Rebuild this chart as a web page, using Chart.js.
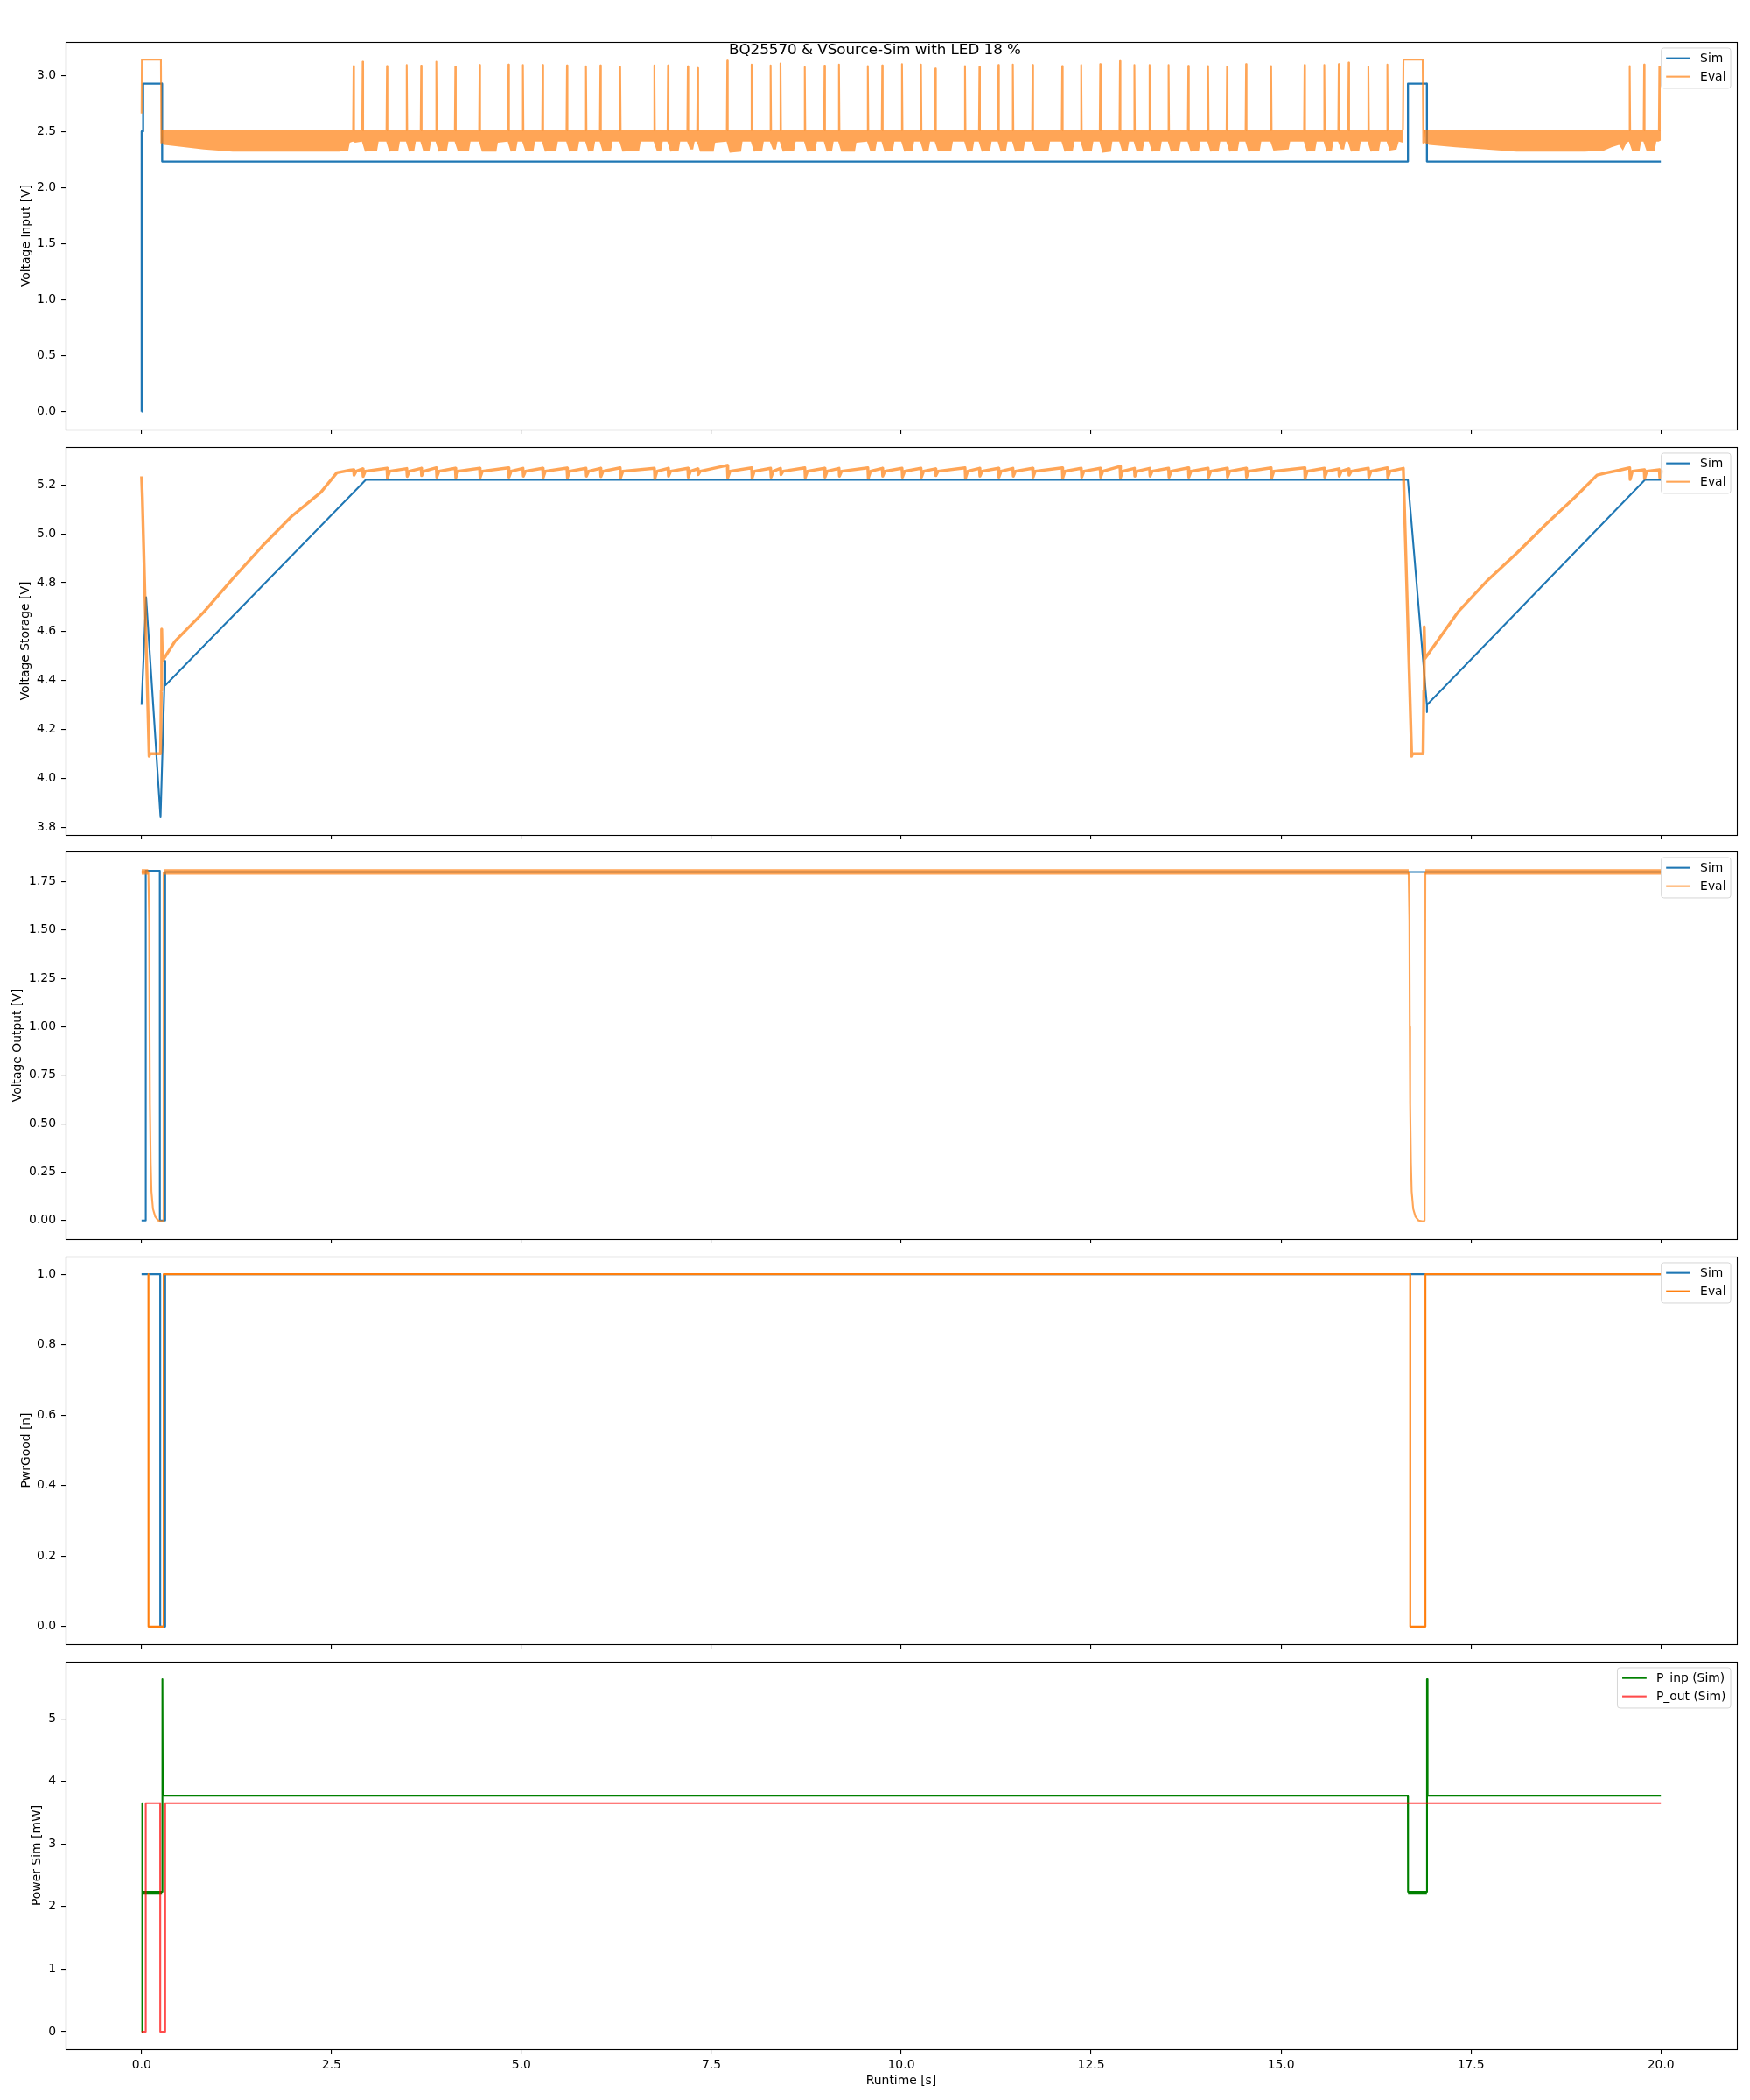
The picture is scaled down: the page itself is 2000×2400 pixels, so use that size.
<!DOCTYPE html>
<html>
<head>
<meta charset="utf-8">
<title>BQ25570 &amp; VSource-Sim with LED 18 %</title>
<script src="https://cdn.jsdelivr.net/npm/chart.js@4.4.1/dist/chart.umd.min.js"></script>
<style>
  html, body { margin:0; padding:0; background:#ffffff; }
  body { position:relative; width:2000px; height:2400px; overflow:hidden; }
  canvas.panel { position:absolute; left:0; }
  #suptitle { position:absolute; left:0; top:46px; width:2000px; text-align:center;
    font-family:"DejaVu Sans", sans-serif; font-size:16.7px; line-height:20px; color:#000; z-index:10; }
</style>
</head>
<body>
<canvas id="p0" class="panel"></canvas>
<canvas id="p1" class="panel"></canvas>
<canvas id="p2" class="panel"></canvas>
<canvas id="p3" class="panel"></canvas>
<canvas id="p4" class="panel"></canvas>
<div id="suptitle">BQ25570 &amp; VSource-Sim with LED 18 %</div>
<script>
// ======================= DATA =======================
const xTicks = [0, 2.5, 5, 7.5, 10, 12.5, 15, 17.5, 20];
const xRange = [-1, 21];
const xLabel = 'Runtime [s]';

// ---- Panel 1: Voltage Input ----
const yLabelVin = 'Voltage Input [V]';
const yTicksVin = [0, 0.5, 1.0, 1.5, 2.0, 2.5, 3.0];
const yRangeVin = [-0.157, 3.297];
const simVin = [[0,0],[0.001,2.50],[0.02,2.50],[0.021,2.925],[0.27,2.925],[0.271,2.232],
  [16.67,2.232],[16.671,2.925],[16.92,2.925],[16.921,2.232],[20,2.232]];
const evalVinStepA = [[0,2.66],[0.004,3.14],[0.255,3.14],[0.26,2.40],[0.268,2.51]];
const evalVinStepB = [[16.605,2.51],[16.612,3.14],[16.865,3.14],[16.872,2.40],[16.885,2.51]];
const evalVinBandTop = 2.513;
const evalVinBandALow = [
  [0.268,2.40],[0.30,2.38],[0.45,2.37],[0.82,2.34],[1.2,2.32],[2.0,2.32],[2.6,2.32],[2.72,2.33],[2.74,2.40],[2.78,2.41],
  [2.81,2.40],[2.90,2.41],
  [2.94,2.32],[3.10,2.33],[3.12,2.41],[3.22,2.41],
  [3.26,2.32],[3.38,2.33],[3.40,2.41],[3.48,2.41],
  [3.52,2.32],[3.59,2.33],[3.61,2.41],[3.67,2.41],
  [3.71,2.32],[3.79,2.33],[3.81,2.41],[3.87,2.41],
  [3.91,2.32],[4.02,2.33],[4.04,2.41],[4.12,2.41],
  [4.16,2.33],[4.31,2.33],[4.33,2.41],[4.44,2.41],
  [4.48,2.32],[4.67,2.32],[4.69,2.40],[4.82,2.41],
  [4.86,2.32],[4.93,2.33],[4.95,2.41],[5.01,2.41],
  [5.05,2.33],[5.16,2.33],[5.18,2.41],[5.27,2.41],
  [5.31,2.32],[5.46,2.33],[5.48,2.41],[5.59,2.41],
  [5.63,2.32],[5.74,2.33],[5.76,2.41],[5.84,2.41],
  [5.88,2.32],[5.95,2.33],[5.97,2.41],[6.03,2.41],
  [6.07,2.32],[6.18,2.33],[6.20,2.41],[6.29,2.41],
  [6.33,2.32],[6.55,2.33],[6.57,2.41],[6.74,2.41],
  [6.78,2.33],[6.84,2.33],[6.86,2.41],[6.92,2.41],
  [6.96,2.32],[7.07,2.33],[7.09,2.41],[7.18,2.41],
  [7.22,2.34],[7.26,2.34],[7.28,2.41],[7.31,2.41],
  [7.35,2.32],[7.53,2.32],[7.55,2.40],[7.70,2.41],
  [7.74,2.31],[7.89,2.32],[7.91,2.41],[8.02,2.41],
  [8.06,2.32],[8.17,2.33],[8.19,2.41],[8.27,2.41],
  [8.31,2.34],[8.35,2.34],[8.37,2.41],[8.40,2.41],
  [8.44,2.32],[8.59,2.33],[8.61,2.41],[8.72,2.41],
  [8.76,2.32],[8.87,2.33],[8.89,2.41],[8.98,2.41],
  [9.02,2.32],[9.09,2.33],[9.11,2.41],[9.17,2.41],
  [9.21,2.32],[9.39,2.32],[9.41,2.40],[9.55,2.41],
  [9.59,2.33],[9.66,2.33],[9.68,2.41],[9.74,2.41],
  [9.78,2.32],[9.89,2.33],[9.91,2.41],[10.00,2.41],
  [10.04,2.32],[10.15,2.33],[10.17,2.41],[10.25,2.41],
  [10.29,2.32],[10.36,2.33],[10.38,2.41],[10.44,2.41],
  [10.48,2.33],[10.66,2.33],[10.68,2.41],[10.83,2.41],
  [10.87,2.32],[10.94,2.33],[10.96,2.41],[11.02,2.41],
  [11.06,2.32],[11.17,2.33],[11.19,2.41],[11.27,2.41],
  [11.31,2.32],[11.38,2.33],[11.40,2.41],[11.46,2.41],
  [11.50,2.32],[11.61,2.33],[11.63,2.41],[11.72,2.41],
  [11.76,2.33],[11.94,2.33],[11.96,2.41],[12.11,2.41],
  [12.15,2.32],[12.26,2.33],[12.28,2.41],[12.36,2.41],
  [12.40,2.32],[12.51,2.33],[12.53,2.41],[12.61,2.41],
  [12.65,2.31],[12.76,2.32],[12.78,2.41],[12.87,2.41],
  [12.91,2.32],[12.98,2.33],[13.00,2.41],[13.06,2.41],
  [13.10,2.32],[13.18,2.33],[13.20,2.41],[13.26,2.41],
  [13.30,2.32],[13.41,2.33],[13.43,2.41],[13.51,2.41],
  [13.55,2.32],[13.66,2.33],[13.68,2.41],[13.77,2.41],
  [13.81,2.32],[13.92,2.33],[13.94,2.41],[14.03,2.41],
  [14.07,2.32],[14.18,2.33],[14.20,2.41],[14.28,2.41],
  [14.32,2.32],[14.43,2.33],[14.45,2.41],[14.53,2.41],
  [14.57,2.32],[14.72,2.33],[14.74,2.41],[14.86,2.41],
  [14.90,2.33],[15.10,2.34],[15.12,2.41],[15.30,2.41],
  [15.34,2.32],[15.45,2.33],[15.47,2.41],[15.56,2.41],
  [15.60,2.32],[15.67,2.33],[15.69,2.41],[15.75,2.41],
  [15.79,2.34],[15.83,2.34],[15.85,2.41],[15.88,2.41],
  [15.92,2.32],[16.03,2.33],[16.05,2.41],[16.14,2.41],
  [16.18,2.32],[16.29,2.33],[16.31,2.41],[16.39,2.41],
  [16.43,2.33],[16.52,2.34],[16.55,2.41],[16.605,2.40]
];
const evalVinBandBLow = [
  [16.885,2.40],[16.95,2.38],[17.3,2.36],[17.7,2.34],[18.1,2.32],[18.6,2.32],[19.0,2.32],[19.25,2.33],
  [19.35,2.36],[19.45,2.38],[19.50,2.33],[19.55,2.40],[19.58,2.41],[19.62,2.33],[19.72,2.33],[19.74,2.41],
  [19.77,2.41],[19.81,2.33],[19.92,2.33],[19.94,2.41],[19.97,2.41],[20.0,2.42]
];
const spikeT = [2.79, 2.91, 3.23, 3.49, 3.68, 3.88, 4.13, 4.45, 4.83, 5.02, 5.28, 5.60, 5.85, 6.04,
  6.30, 6.75, 6.93, 7.19, 7.32, 7.71, 8.03, 8.28, 8.41, 8.73, 8.99, 9.18, 9.56, 9.75, 10.01, 10.26,
  10.45, 10.84, 11.03, 11.28, 11.47, 11.73, 12.12, 12.37, 12.62, 12.88, 13.07, 13.27, 13.52, 13.78,
  14.04, 14.29, 14.54, 14.87, 15.31, 15.57, 15.76, 15.89, 16.15, 16.40, 19.59, 19.78, 19.98];
const spikeV = [3.083, 3.122, 3.083, 3.091, 3.086, 3.122, 3.078, 3.091, 3.096, 3.091, 3.091, 3.088,
  3.081, 3.088, 3.075, 3.088, 3.088, 3.081, 3.065, 3.130, 3.096, 3.088, 3.106, 3.073, 3.086, 3.096,
  3.083, 3.089, 3.100, 3.096, 3.060, 3.083, 3.075, 3.091, 3.096, 3.091, 3.083, 3.091, 3.100, 3.128,
  3.091, 3.091, 3.091, 3.085, 3.083, 3.078, 3.100, 3.083, 3.091, 3.091, 3.100, 3.114, 3.078, 3.096,
  3.083, 3.096, 3.078];

// ---- Panel 2: Voltage Storage ----
const yLabelSto = 'Voltage Storage [V]';
const yTicksSto = [3.8, 4.0, 4.2, 4.4, 4.6, 4.8, 5.0, 5.2];
const yRangeSto = [3.768, 5.355];
const simSto = [[0,4.30],[0.06,4.74],[0.25,3.84],[0.31,4.48],[0.312,4.38],[2.95,5.221],[16.67,5.221],
  [16.92,4.30],[16.921,4.27],[16.922,4.30],[19.79,5.221],[20,5.221]];
const evalStoRiseA = [[0,5.235],[0.01,5.15],[0.10,4.09],[0.11,4.10],[0.25,4.10],[0.26,4.36],[0.265,4.61],
  [0.275,4.48],[0.44,4.56],[0.82,4.68],[1.21,4.82],[1.59,4.95],[1.97,5.07],[2.36,5.17],[2.57,5.25],[2.74,5.26]];
const evalStoRiseB = [[16.61,5.268],[16.72,4.09],[16.73,4.10],[16.87,4.10],[16.88,4.36],[16.885,4.62],
  [16.895,4.49],[17.33,4.68],[17.72,4.81],[18.10,4.92],[18.49,5.04],[18.87,5.15],[19.16,5.24],[19.29,5.25],[19.45,5.26]];
const evalStoEnd = [[20.0,5.255]];
const evalStoHi = [5.262, 5.266, 5.268, 5.267, 5.268, 5.270, 5.268, 5.268, 5.270, 5.268, 5.268, 5.269,
  5.268, 5.268, 5.270, 5.268, 5.268, 5.268, 5.266, 5.280, 5.270, 5.268, 5.268, 5.270, 5.268, 5.268,
  5.270, 5.268, 5.268, 5.268, 5.266, 5.270, 5.268, 5.268, 5.268, 5.268, 5.270, 5.268, 5.268, 5.276,
  5.268, 5.268, 5.268, 5.270, 5.268, 5.268, 5.268, 5.270, 5.270, 5.268, 5.266, 5.266, 5.268, 5.270,
  5.270, 5.262, 5.262];
const evalStoLo = [5.240, 5.235, 5.228, 5.235, 5.238, 5.232, 5.230, 5.230, 5.232, 5.236, 5.230, 5.230,
  5.236, 5.234, 5.230, 5.226, 5.236, 5.232, 5.242, 5.230, 5.228, 5.232, 5.242, 5.230, 5.232, 5.236,
  5.228, 5.236, 5.232, 5.232, 5.238, 5.228, 5.236, 5.232, 5.236, 5.232, 5.228, 5.232, 5.232, 5.230,
  5.236, 5.236, 5.232, 5.232, 5.232, 5.232, 5.232, 5.228, 5.226, 5.232, 5.236, 5.240, 5.232, 5.230,
  5.222, 5.226, 5.230];
const evalStoRecover = 5.256;   // level reached shortly after each notch

// ---- Panel 3: Voltage Output ----
const yLabelVout = 'Voltage Output [V]';
const yTicksVout = [0, 0.25, 0.5, 0.75, 1.0, 1.25, 1.5, 1.75];
const yRangeVout = [-0.096, 1.906];
const simVout = [[0,0],[0.054,0],[0.055,1.806],[0.24,1.806],[0.241,0],[0.31,0],[0.311,1.80],[20,1.80]];
const evalVoutDipA = [[0,1.80],[0.09,1.80],[0.10,1.55],[0.105,1.0],[0.11,0.6],[0.12,0.3],[0.13,0.15],
  [0.15,0.06],[0.18,0.02],[0.22,0.0],[0.27,-0.005],[0.285,0.0],[0.29,1.80]];
const evalVoutDipB = [[16.68,1.80],[16.69,1.55],[16.695,1.0],[16.70,0.6],[16.71,0.3],[16.72,0.15],
  [16.74,0.06],[16.77,0.02],[16.81,0.0],[16.87,-0.005],[16.89,0.0],[16.90,1.80]];
const evalVoutBandSpans = [[0, 0.09], [0.29, 16.68], [16.90, 20]];
const evalVoutBandTop = 1.815;
const evalVoutBandLow = 1.786;

// ---- Panel 4: PwrGood ----
const yLabelPG = 'PwrGood [n]';
const yTicksPG = [0, 0.2, 0.4, 0.6, 0.8, 1.0];
const yRangePG = [-0.05, 1.05];
const simPG = [[0,1],[0.245,1],[0.246,0],[0.31,0],[0.311,1],[20,1]];
const evalPG = [[0.09,1],[0.091,0],[0.29,0],[0.291,1],[16.70,1],[16.701,0],[16.90,0],[16.901,1],[20,1]];

// ---- Panel 5: Power Sim ----
const yLabelPow = 'Power Sim [mW]';
const yTicksPow = [0, 1, 2, 3, 4, 5];
const yRangePow = [-0.28, 5.91];
const pInp = [[0,0],[0.003,0],[0.004,3.65],[0.012,3.65],[0.013,2.235],[0.27,2.235],[0.272,5.63],[0.277,5.63],
  [0.279,3.77],[16.67,3.77],[16.672,2.235],[16.92,2.235],[16.922,5.63],[16.927,5.63],[16.929,3.77],[20,3.77]];
const pInpLowEdge = [[0.013,2.205],[0.27,2.205],[0.27,null],[16.672,2.205],[16.92,2.205]];
const pOut = [[0,0],[0.054,0],[0.055,3.65],[0.245,3.65],[0.246,0],[0.31,0],[0.311,3.65],[20,3.65]];

// ======================= STYLE / LAYOUT =======================
const FONT = '"DejaVu Sans", sans-serif';
const FS = 13.9;
const C_SIM = '#1f77b4';
const C_EVAL = 'rgba(255,127,14,0.7)';
const C_EVAL_SOLID = '#ff7f0e';
const C_PINP = '#008000';
const C_POUT = 'rgba(255,0,0,0.7)';
const PANEL_TOP = [48, 511, 973, 1436, 1899];
const PANEL_H = 443;
const PAD_TOP = 20, PAD_BOTTOM = 10;
const SPIKE_HALF = 0.006, STO_DROP_DT = 0.006, STO_RECOVER_DT = 0.035;

Chart.defaults.font.family = FONT;
Chart.defaults.color = '#000';

function toXY(pts) { return pts.map(p => ({x: p[0], y: p[1]})); }
function lineDS(label, pts, color, width, order) {
  return {label, data: toXY(pts), borderColor: color, backgroundColor: color, borderWidth: width,
    pointRadius: 0, pointHoverRadius: 0, fill: false, order, tension: 0, spanGaps: false,
    borderJoinStyle: 'round'};
}
function bandDS(label, upperPts, lowerPts, color, order) {
  return [
    {label, data: toXY(upperPts), borderColor: 'rgba(0,0,0,0)', backgroundColor: color, borderWidth: 0,
      fill: '+1', pointRadius: 0, pointHoverRadius: 0, order, tension: 0},
    {label: label + ' (low)', data: toXY(lowerPts), borderColor: 'rgba(0,0,0,0)', backgroundColor: 'rgba(0,0,0,0)',
      borderWidth: 0, fill: false, pointRadius: 0, pointHoverRadius: 0, order, tension: 0}
  ];
}

function buildEvalVin() {
  const pts = [];
  const tB = evalVinStepB[0][0];
  evalVinStepA.forEach(p => pts.push(p));
  pts.push([evalVinStepA[evalVinStepA.length - 1][0], null]);
  spikeT.forEach((t, i) => { if (t < tB) pts.push([t - SPIKE_HALF, evalVinBandTop], [t, spikeV[i]], [t + SPIKE_HALF, evalVinBandTop], [t + SPIKE_HALF, null]); });
  evalVinStepB.forEach(p => pts.push(p));
  pts.push([evalVinStepB[evalVinStepB.length - 1][0], null]);
  spikeT.forEach((t, i) => { if (t > tB) pts.push([t - SPIKE_HALF, evalVinBandTop], [t, spikeV[i]], [t + SPIKE_HALF, evalVinBandTop], [t + SPIKE_HALF, null]); });
  return pts;
}
function buildEvalSto() {
  const pts = evalStoRiseA.slice();
  const tB = evalStoRiseB[0][0];
  const notch = (t, i) => pts.push([t, evalStoHi[i]], [t + STO_DROP_DT, evalStoLo[i]], [t + STO_RECOVER_DT, evalStoRecover]);
  spikeT.forEach((t, i) => { if (t < tB) notch(t, i); });
  evalStoRiseB.forEach(p => pts.push(p));
  spikeT.forEach((t, i) => { if (t > tB) notch(t, i); });
  evalStoEnd.forEach(p => pts.push(p));
  return pts;
}
function buildEvalVoutDips() {
  const pts = evalVoutDipA.slice();
  pts.push([evalVoutDipA[evalVoutDipA.length - 1][0], null]);
  evalVoutDipB.forEach(p => pts.push(p));
  return pts;
}

const frameLegend = {
  id: 'frameLegend',
  afterDraw(chart, args, opts) {
    const {ctx, chartArea: a} = chart;
    ctx.save();
    ctx.strokeStyle = '#000';
    ctx.lineWidth = 1.1;
    ctx.strokeRect(Math.round(a.left) + 0.5, Math.round(a.top) + 0.5, Math.round(a.right - a.left), Math.round(a.bottom - a.top));
    const items = opts.items || [];
    if (items.length) {
      ctx.font = FS + 'px ' + FONT;
      const tw = Math.max(...items.map(i => ctx.measureText(i.label).width));
      const pad = 0.4 * FS, hl = 2 * FS, htp = 0.8 * FS;
      const w = pad + hl + htp + tw + pad;
      const h = 46;
      const right = a.right - 0.5 * FS;
      const top = a.top + 0.5 * FS;
      const left = right - w;
      ctx.beginPath();
      if (ctx.roundRect) ctx.roundRect(left, top, w, h, 3); else ctx.rect(left, top, w, h);
      ctx.fillStyle = 'rgba(255,255,255,0.8)';
      ctx.fill();
      ctx.strokeStyle = 'rgba(204,204,204,0.8)';
      ctx.lineWidth = 1;
      ctx.stroke();
      items.forEach((it, i) => {
        const y = top + 11.7 + i * 21;
        ctx.beginPath();
        ctx.strokeStyle = it.color;
        ctx.lineWidth = 2.1;
        ctx.moveTo(left + pad, y);
        ctx.lineTo(left + pad + hl, y);
        ctx.stroke();
        ctx.fillStyle = '#000';
        ctx.textBaseline = 'middle';
        ctx.textAlign = 'left';
        ctx.fillText(it.label, left + pad + hl + htp, y + 1);
      });
    }
    ctx.restore();
  }
};

function makePanel(idx, cfg) {
  const isLast = idx === 4;
  const xH = isLast ? 50 : 10;
  const H = PAD_TOP + PANEL_H + xH + PAD_BOTTOM;
  const cv = document.getElementById('p' + idx);
  cv.width = 2000; cv.height = H;
  cv.style.width = '2000px'; cv.style.height = H + 'px';
  cv.style.top = (PANEL_TOP[idx] - PAD_TOP) + 'px';
  const gridOpts = {drawOnChartArea: false, drawTicks: true, tickLength: 5, color: '#000', lineWidth: 1.1};
  return new Chart(cv, {
    type: 'line',
    data: {datasets: cfg.datasets},
    options: {
      responsive: false, maintainAspectRatio: false, animation: false, devicePixelRatio: 1,
      events: [],
      layout: {padding: {top: PAD_TOP, left: 0, right: 15, bottom: PAD_BOTTOM}},
      plugins: {legend: {display: false}, tooltip: {enabled: false}, frameLegend: {items: cfg.legend}},
      scales: {
        x: {
          type: 'linear', position: 'bottom', min: xRange[0], max: xRange[1],
          afterBuildTicks: s => { s.ticks = xTicks.map(v => ({value: v})); },
          afterFit: s => { s.height = xH; },
          grid: gridOpts, border: {display: false},
          ticks: {display: isLast, padding: 5, color: '#000', font: {family: FONT, size: FS}, maxRotation: 0,
            autoSkip: false, callback: v => Number(v).toFixed(1)},
          title: {display: isLast, text: xLabel, color: '#000', font: {family: FONT, size: FS, lineHeight: 1},
            padding: {top: 0, bottom: 7}}
        },
        y: {
          type: 'linear', position: 'left', min: cfg.yRange[0], max: cfg.yRange[1],
          afterBuildTicks: s => { s.ticks = cfg.yTicks.map(v => ({value: v})); },
          afterFit: s => { s.width = 75; },
          grid: gridOpts, border: {display: false},
          ticks: {padding: 6, color: '#000', font: {family: FONT, size: FS}, autoSkip: false,
            callback: v => Number(v).toFixed(cfg.dec)},
          title: {display: true, text: cfg.yLabel, color: '#000', font: {family: FONT, size: FS, lineHeight: 1},
            padding: {top: cfg.titlePad, bottom: 0}}
        }
      }
    },
    plugins: [frameLegend]
  });
}

// Panel 1
makePanel(0, {
  yLabel: yLabelVin, yTicks: yTicksVin, yRange: yRangeVin, dec: 1, titlePad: 23,
  legend: [{label: 'Sim', color: C_SIM}, {label: 'Eval', color: C_EVAL}],
  datasets: [
    lineDS('Sim', simVin, C_SIM, 2.3, 3),
    ...bandDS('Eval band A', evalVinBandALow.map(p => [p[0], evalVinBandTop]), evalVinBandALow, C_EVAL, 2),
    ...bandDS('Eval band B', evalVinBandBLow.map(p => [p[0], evalVinBandTop]), evalVinBandBLow, C_EVAL, 2),
    lineDS('Eval', buildEvalVin(), C_EVAL, 2.1, 1)
  ]
});
// Panel 2
makePanel(1, {
  yLabel: yLabelSto, yTicks: yTicksSto, yRange: yRangeSto, dec: 1, titlePad: 22.7,
  legend: [{label: 'Sim', color: C_SIM}, {label: 'Eval', color: C_EVAL}],
  datasets: [
    lineDS('Sim', simSto, C_SIM, 2.1, 3),
    lineDS('Eval', buildEvalSto(), C_EVAL, 3.4, 1)
  ]
});
// Panel 3
const voutBands = [];
evalVoutBandSpans.forEach((sp, i) => {
  voutBands.push(...bandDS('Eval band ' + i, [[sp[0], evalVoutBandTop], [sp[1], evalVoutBandTop]],
    [[sp[0], evalVoutBandLow], [sp[1], evalVoutBandLow]], C_EVAL, 2));
});
makePanel(2, {
  yLabel: yLabelVout, yTicks: yTicksVout, yRange: yRangeVout, dec: 2, titlePad: 13.9,
  legend: [{label: 'Sim', color: C_SIM}, {label: 'Eval', color: C_EVAL}],
  datasets: [
    lineDS('Sim', simVout, C_SIM, 2.1, 3),
    ...voutBands,
    lineDS('Eval', buildEvalVoutDips(), C_EVAL, 2.1, 1)
  ]
});
// Panel 4
makePanel(3, {
  yLabel: yLabelPG, yTicks: yTicksPG, yRange: yRangePG, dec: 1, titlePad: 23,
  legend: [{label: 'Sim', color: C_SIM}, {label: 'Eval', color: C_EVAL_SOLID}],
  datasets: [
    lineDS('Sim', simPG, C_SIM, 2.1, 3),
    lineDS('Eval', evalPG, C_EVAL_SOLID, 2.1, 1)
  ]
});
// Panel 5
makePanel(4, {
  yLabel: yLabelPow, yTicks: yTicksPow, yRange: yRangePow, dec: 0, titlePad: 35.9,
  legend: [{label: 'P_inp (Sim)', color: C_PINP}, {label: 'P_out (Sim)', color: C_POUT}],
  datasets: [
    lineDS('P_inp (Sim)', pInp, C_PINP, 2.1, 3),
    lineDS('P_inp (Sim) edge', pInpLowEdge, C_PINP, 2.1, 3),
    lineDS('P_out (Sim)', pOut, C_POUT, 2.1, 1)
  ]
});
</script>
</body>
</html>
